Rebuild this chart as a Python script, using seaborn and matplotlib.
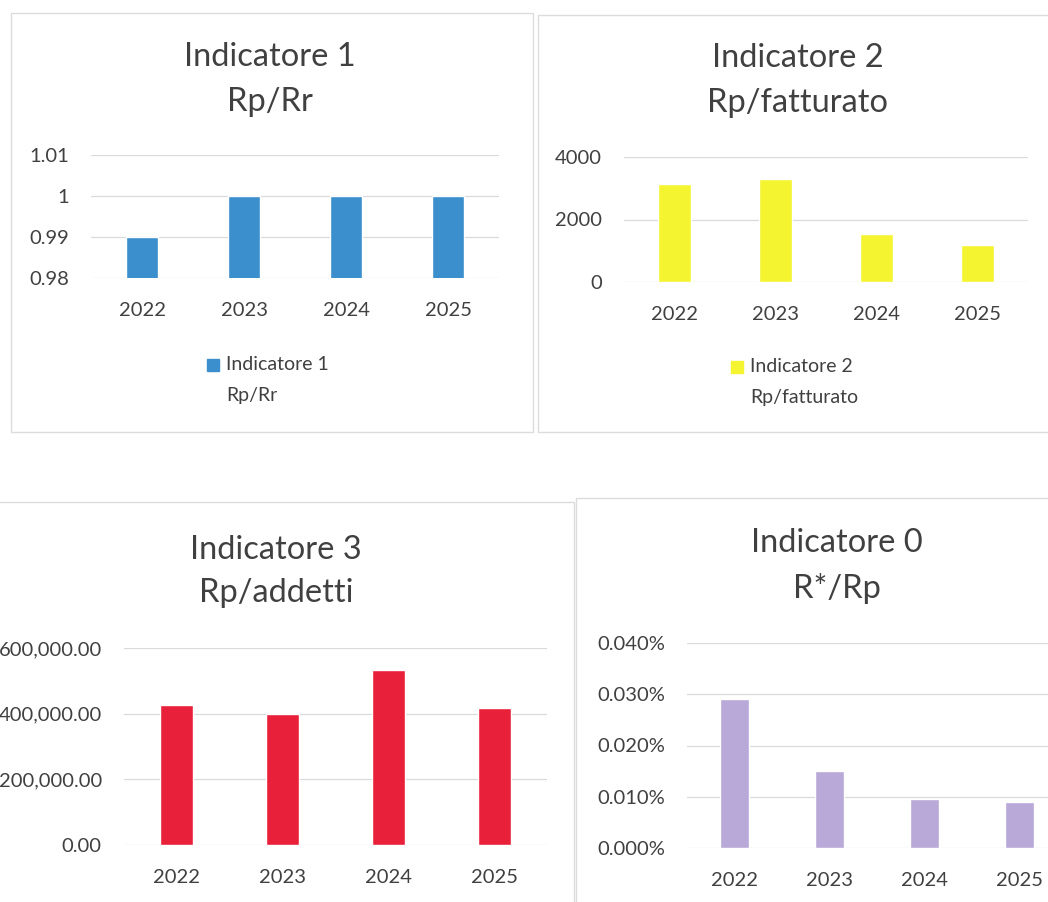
import matplotlib
matplotlib.use("Agg")
import matplotlib.pyplot as plt
import matplotlib.ticker as mticker
from matplotlib.patches import Rectangle
import seaborn as sns
import pandas as pd

# =====================================================
# Dati
# =====================================================

anni = ["2022", "2023", "2024", "2025"]

ind1 = [0.99, 1.0, 1.0, 1.0]                    # Rp/Rr
ind2 = [3150, 3300, 1550, 1200]                 # Rp/fatturato
ind3 = [426000, 400000, 533000, 417000]         # Rp/addetti
ind0 = [0.00029, 0.00015, 0.000095, 0.00009]    # R*/Rp

sns.set_theme(style="white")
plt.rcParams["font.family"] = ["Lato", "DejaVu Sans"]

W, H = 1048, 902
fig = plt.figure(figsize=(W / 100, H / 100), dpi=100)
fig.patch.set_facecolor("white")

TXT = "#404040"
GRID = "#dadada"


def px_axes(x0, x1, y0, y1):
    return fig.add_axes([x0 / W, 1 - y1 / H, (x1 - x0) / W, (y1 - y0) / H])


def bordo(x0, x1, y0, y1):
    fig.patches.append(Rectangle((x0 / W, 1 - y1 / H), (x1 - x0) / W, (y1 - y0) / H,
                                 transform=fig.transFigure, fill=False,
                                 edgecolor="#dcdcdc", lw=1.0, zorder=0))


def titolo(xc, y1, y2, r1, r2):
    fig.text(xc / W, 1 - y1 / H, r1, ha="center", va="center", fontsize=23.5, color=TXT)
    fig.text(xc / W, 1 - y2 / H, r2, ha="center", va="center", fontsize=23.5, color=TXT)


def legenda(x, y, colore, r1, r2):
    fig.patches.append(Rectangle(((x - 6) / W, 1 - (y + 6) / H), 12 / W, 12 / H,
                                 transform=fig.transFigure, color=colore))
    fig.text((x + 13) / W, 1 - y / H, r1, ha="left", va="center", fontsize=14, color=TXT)
    fig.text((x + 13) / W, 1 - (y + 30) / H, r2, ha="left", va="center", fontsize=14, color=TXT)


def grafico(ax, valori, colore, larghezza, ylim, ticks, fmt):
    df = pd.DataFrame({"anno": anni, "valore": valori})
    sns.barplot(data=df, x="anno", y="valore", color=colore, saturation=1,
                width=larghezza, ax=ax, zorder=3)
    ax.set_xlim(-0.5, 3.5)
    ax.set_ylim(*ylim)
    ax.set_yticks(ticks)
    ax.yaxis.set_major_formatter(fmt)
    ax.set_xlabel("")
    ax.set_ylabel("")
    ax.grid(axis="y", color=GRID, lw=0.9, zorder=0)
    ax.set_axisbelow(True)
    for s in ax.spines.values():
        s.set_visible(False)
    ax.set_facecolor("none")
    ax.tick_params(axis="both", length=0, labelsize=14.5, labelcolor=TXT)
    ax.tick_params(axis="x", pad=17)
    ax.tick_params(axis="y", pad=16)


# =====================================================
# Indicatore 1
# =====================================================

bordo(11, 533, 13, 432)
titolo(270, 57, 102, "Indicatore 1", "Rp/Rr")
ax1 = px_axes(91, 499, 155, 278)
grafico(ax1, ind1, "#3a8fcc", 0.31, (0.98, 1.01), [0.98, 0.99, 1.0, 1.01],
        mticker.FuncFormatter(lambda v, p: "1" if abs(v - 1) < 1e-9 else f"{v:.2f}"))
legenda(213, 365, "#3a8fcc", "Indicatore 1", "Rp/Rr")

# =====================================================
# Indicatore 2
# =====================================================

bordo(538, 1060, 15, 432)
titolo(798, 58, 103, "Indicatore 2", "Rp/fatturato")
ax2 = px_axes(624, 1028, 157, 282)
grafico(ax2, ind2, "#f5f431", 0.32, (0, 4000), [0, 2000, 4000],
        mticker.FuncFormatter(lambda v, p: f"{v:.0f}"))
legenda(737, 367, "#f5f431", "Indicatore 2", "Rp/fatturato")

# =====================================================
# Indicatore 3
# =====================================================

bordo(-20, 574, 502, 930)
titolo(276, 550, 593, "Indicatore 3", "Rp/addetti")
ax3 = px_axes(124, 547, 648, 845)
grafico(ax3, ind3, "#e8203a", 0.31, (0, 600000), [0, 200000, 400000, 600000],
        mticker.FuncFormatter(lambda v, p: f"{v:,.2f}"))

# =====================================================
# Indicatore 0
# =====================================================

bordo(576, 1070, 498, 930)
titolo(837, 543, 588, "Indicatore 0", "R*/Rp")
ax0 = px_axes(687, 1067, 643, 848)
grafico(ax0, ind0, "#b8a9d8", 0.30, (0, 0.0004), [0, 0.0001, 0.0002, 0.0003, 0.0004],
        mticker.PercentFormatter(xmax=1, decimals=3))

fig.savefig("out.png", dpi=100, facecolor="white")
